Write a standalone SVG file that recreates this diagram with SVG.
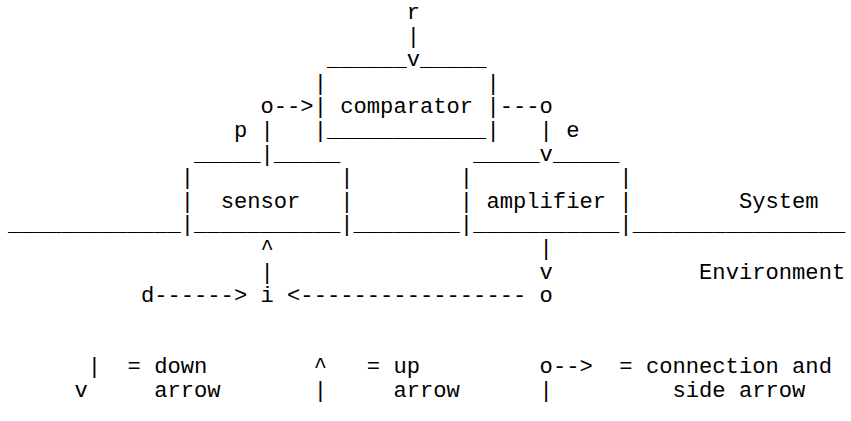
<svg xmlns="http://www.w3.org/2000/svg" width="851" height="421" viewBox="0 0 851 421">
<style>
text{font-family:"Liberation Mono","Courier New",monospace;font-size:22.15px;fill:#000;white-space:pre}
</style>
<rect width="851" height="421" fill="#fff"/>
<g id="signal-r"><text x="406.7" y="19">r</text></g>
<g id="comparator">
<text x="326.96" y="66.2">______</text><text x="419.99" y="66.2">_____</text>
<text x="313.67" y="89.8">|</text><text x="486.44" y="89.8">|</text>
<text x="313.67" y="113.4">|</text><text x="340.25" y="113.4">comparator</text><text x="486.44" y="113.4">|</text>
<text x="313.67" y="137">|____________|</text>
</g>
<g id="sensor">
<text x="194.06" y="160.6">_____</text><text x="273.8" y="160.6">_____</text>
<text x="180.77" y="184.2">|</text><text x="340.25" y="184.2">|</text>
<text x="180.77" y="207.8">|</text><text x="220.64" y="207.8">sensor</text><text x="340.25" y="207.8">|</text>
<text x="180.77" y="231.4">|___________|</text>
</g>
<g id="amplifier">
<text x="473.15" y="160.6">_____</text><text x="552.89" y="160.6">_____</text>
<text x="459.86" y="184.2">|</text><text x="619.34" y="184.2">|</text>
<text x="459.86" y="207.8">|</text><text x="486.44" y="207.8">amplifier</text><text x="619.34" y="207.8">|</text>
<text x="459.86" y="231.4">|___________|</text>
</g>
<g id="boundary">
<text x="8" y="231.4">_____________</text>
<text x="353.54" y="231.4">________</text>
<text x="632.63" y="231.4">________________</text>
<text x="738.95" y="207.8">System</text>
<text x="699.08" y="278.6">Environment</text>
</g>
<g id="signal-p"><text x="233.93" y="137">p</text></g>
<g id="signal-e"><text x="566.18" y="137">e</text></g>
<g id="signal-d"><text x="140.9" y="302.2">d</text></g>
<g id="signal-i"><text x="260.51" y="302.2">i</text></g>
<g id="signal-o"><text x="539.6" y="302.2">o</text></g>
<g id="connectors">
<text x="406.7" y="42.6">|</text><text x="406.7" y="66.2">v</text>
<text x="260.51" y="113.4">o--&gt;</text>
<text x="260.51" y="137">|</text><text x="260.51" y="160.6">|</text>
<text x="499.73" y="113.4">---o</text>
<text x="539.6" y="137">|</text><text x="539.6" y="160.6">v</text>
<text x="260.51" y="255">^</text><text x="260.51" y="278.6">|</text>
<text x="539.6" y="255">|</text><text x="539.6" y="278.6">v</text>
<text x="154.19" y="302.2">------&gt;</text>
<text x="287.09" y="302.2">&lt;-----------------</text>
</g>
<g id="legend">
<text x="87.74" y="373">|</text><text x="127.61" y="373">= down</text>
<text x="74.45" y="396.6">v</text><text x="154.19" y="396.6">arrow</text>
<text x="313.67" y="373">^</text><text x="366.83" y="373">= up</text>
<text x="313.67" y="396.6">|</text><text x="393.41" y="396.6">arrow</text>
<text x="539.6" y="373">o--&gt;</text><text x="619.34" y="373">= connection and</text>
<text x="539.6" y="396.6">|</text><text x="672.5" y="396.6">side arrow</text>
</g>
</svg>
